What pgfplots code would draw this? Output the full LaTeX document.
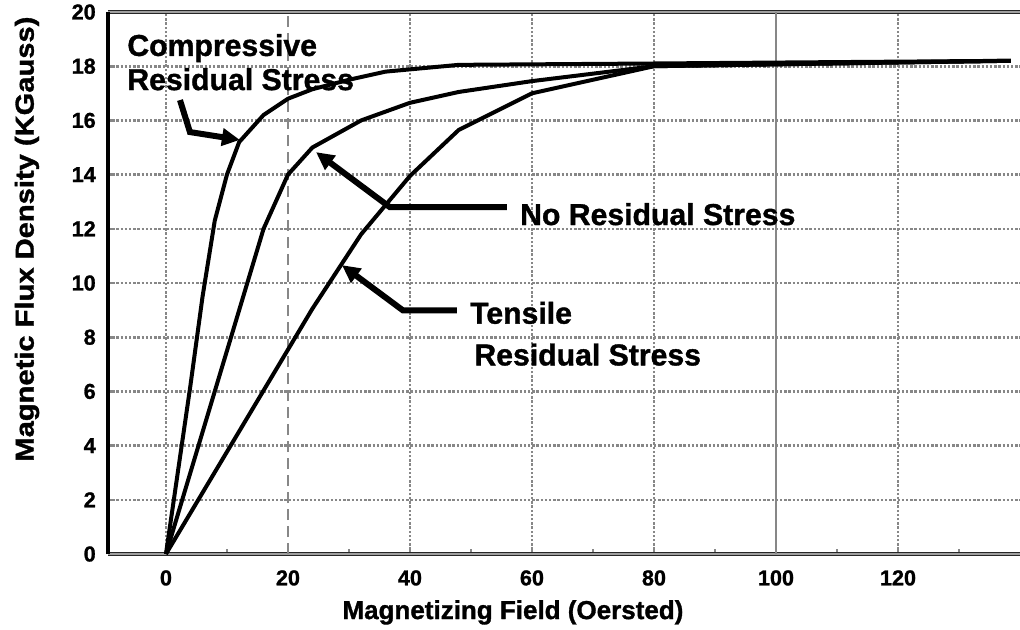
\documentclass[border=0pt]{standalone}
\usepackage{fontspec}
\setmainfont[BoldFeatures={FakeBold=1.2}]{Liberation Sans}
\usepackage{graphicx}
\usepackage{pgfplots}
\pgfplotsset{compat=1.18}
\usetikzlibrary{arrows.meta}
\definecolor{gridgray}{RGB}{135,135,135}
\begin{document}
\begin{tikzpicture}
\begin{axis}[
  name=main,
  scale only axis, width=456pt, height=271pt,
  xmin=-9.5, xmax=140, ymin=0, ymax=20,
  axis x line=box, axis y line=left, separate axis lines,
  x axis line style={-, draw=black!85, double=gray!75, double distance=0.7pt, line width=0.6pt},
  y axis line style={-, draw=black, line width=2pt},
  xtick={0,40,60,80,100,120},
  extra x ticks={20},
  extra x tick style={major grid style={gridgray, line width=1.4pt, dash pattern=on 5.5pt off 3pt}},
  minor xtick={10,30,50,70,90,110,130},
  ytick={0,2,...,20},
  xtick pos=left, ytick pos=left, tick align=inside,
  major tick length=2.5pt, minor tick length=2.5pt,
  every tick/.style={gridgray, line width=1.3pt},
  xmajorgrids, ymajorgrids,
  major grid style={gridgray, line width=1.3pt, dash pattern=on 1.2pt off 0.9pt},
  tick label style={font=\bfseries\fontsize{10.8}{12}\selectfont},
  /pgf/number format/assume math mode=true,
  xticklabel style={yshift=-4.6pt},
  yticklabel style={xshift=-2.6pt},
  xlabel={Magnetizing Field (Oersted)},
  ylabel={\scalebox{1.12}[1]{Magnetic Flux Density (KGauss)}},
  label style={font=\bfseries\fontsize{13}{15}\selectfont},
  xlabel style={at={(axis description cs:0.444,-0.12)}, anchor=base},
  ylabel style={at={(axis description cs:-0.0888,0.581)}, anchor=center},
  clip=false,
]
\draw[gridgray, line width=1.3pt] (axis cs:100,0) -- (axis cs:100,20);

% Compressive residual stress
\addplot[black, line width=2pt, line join=round] coordinates {
(0,0) (4,6.2) (6,9.5) (8,12.3) (10,14) (12,15.2) (16,16.2) (20,16.8)
(24,17.15) (30,17.5) (36,17.8) (48,18.05) (80,18.1) (138.5,18.2)};
% No residual stress
\addplot[black, line width=2pt, line join=round] coordinates {
(0,0) (8,6) (12,9) (16,12) (20,14) (24,15) (32,16.0) (40,16.65)
(48,17.05) (60,17.45) (80,18.0) (138.5,18.2)};
% Tensile residual stress
\addplot[black, line width=2pt, line join=round] coordinates {
(0,0) (24,9.05) (32,11.8) (40,13.95) (48,15.65) (60,17.0) (80,18.0) (138.5,18.2)};

\draw[black, line width=3pt, -{Triangle[length=9pt,width=8.5pt]}]
  (axis cs:2.30,16.75) -- (axis cs:3.93,15.57) -- (axis cs:12.13,15.28);
\draw[black, line width=3pt, -{Triangle[length=9pt,width=8.5pt]}]
  (axis cs:55.9,12.80) -- (axis cs:36.7,12.80) -- (axis cs:24.6,14.83);
\draw[black, line width=3pt, -{Triangle[length=9pt,width=8.5pt]}]
  (axis cs:47.7,8.99) -- (axis cs:38.85,8.99) -- (axis cs:28.85,10.66);

\begin{scope}[every node/.style={anchor=base west, inner sep=0pt, font=\bfseries\fontsize{15.1}{18}\selectfont}]
\node at (axis cs:-6.39,18.38) {Compressive};
\node at (axis cs:-6.39,17.12) {Residual Stress};
\node at (axis cs:58.0,12.14) {No Residual Stress};
\node at (axis cs:49.8,8.50) {Tensile};
\node at (axis cs:50.5,6.96) {Residual Stress};
\end{scope}
\end{axis}
\pgfresetboundingbox
\path ([shift={(-54pt,-37.5pt)}]main.south west) rectangle ([shift={(456pt,277pt)}]main.south west);
\end{tikzpicture}
\end{document}
